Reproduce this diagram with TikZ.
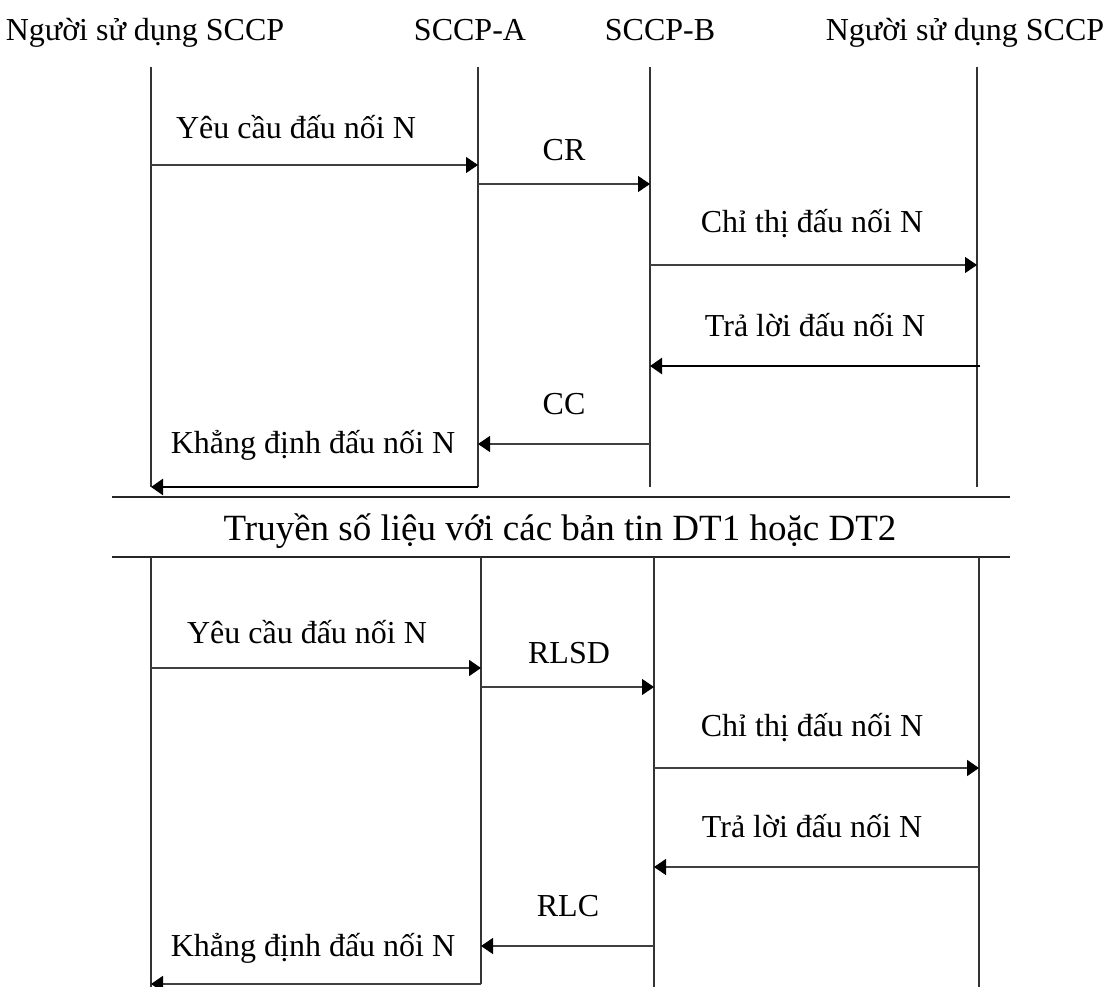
\documentclass[tikz,border=0pt]{standalone}
\usepackage{fontspec}
\setmainfont{Liberation Serif}
\usetikzlibrary{arrows.meta}
\begin{document}
\begin{tikzpicture}[x=1pt,y=-1pt,
  lifeline/.style={line width=2pt,draw=black!80},
  sepline/.style={line width=2pt,draw=black!85},
  tip/.style={-{Triangle[length=12pt,width=16pt,color=black]}},
  msg/.style={line width=1.1pt,draw=black!75,tip},
  msgb/.style={line width=2.4pt,draw=black,tip},
  lbl/.style={font=\fontsize{32}{36}\selectfont,anchor=base,inner sep=0pt},
  ttl/.style={font=\fontsize{37}{42}\selectfont,anchor=base,inner sep=0pt}]
\useasboundingbox (0,0) rectangle (1106,987);

% column headings
\node[lbl] (h1) at (145,41) {Người sử dụng SCCP};
\node[lbl] (h2) at (470,41) {SCCP-A};
\node[lbl] (h3) at (660,41) {SCCP-B};
\node[lbl] (h4) at (965,41) {Người sử dụng SCCP};

% upper phase: lifelines
\coordinate (uAt) at (151,67);  \coordinate (uAb) at (151,487);
\coordinate (uBt) at (478,67);  \coordinate (uBb) at (478,487);
\coordinate (uCt) at (650,67);  \coordinate (uCb) at (650,487);
\coordinate (uDt) at (977,67);  \coordinate (uDb) at (977,487);
\draw[lifeline] (uAt) -- (uAb);
\draw[lifeline] (uBt) -- (uBb);
\draw[lifeline] (uCt) -- (uCb);
\draw[lifeline] (uDt) -- (uDb);

% upper phase: connection set-up messages
\coordinate (u1s) at (151,165); \coordinate (u1e) at (478,165);
\coordinate (u2s) at (478,184); \coordinate (u2e) at (650,184);
\coordinate (u3s) at (650,265); \coordinate (u3e) at (977,265);
\coordinate (u4s) at (980,366); \coordinate (u4e) at (650,366);
\coordinate (u5s) at (650,444); \coordinate (u5e) at (478,444);
\coordinate (u6s) at (478,487); \coordinate (u6e) at (151,487);
\draw[msg] (u1s) -- (u1e);
\draw[msg] (u2s) -- (u2e);
\draw[msg] (u3s) -- (u3e);
\draw[msgb] (u4s) -- (u4e);
\draw[msg] (u5s) -- (u5e);
\draw[msgb] (u6s) -- (u6e);

\node[lbl] (ul1) at (296,139) {Yêu cầu đấu nối N};
\node[lbl] (ul2) at (564,161) {CR};
\node[lbl] (ul3) at (812,233) {Chỉ thị đấu nối N};
\node[lbl] (ul4) at (815,336) {Trả lời đấu nối N};
\node[lbl] (ul5) at (564,414) {CC};
\node[lbl] (ul6) at (313,453) {Khẳng định đấu nối N};

% data transfer band
\coordinate (s1l) at (112,497); \coordinate (s1r) at (1010,497);
\coordinate (s2l) at (112,557); \coordinate (s2r) at (1010,557);
\draw[sepline] (s1l) -- (s1r);
\draw[sepline] (s2l) -- (s2r);
\node[ttl] (band) at (560,540) {Truyền số liệu với các bản tin DT1 hoặc DT2};

% lower phase: lifelines
\coordinate (lAt) at (151,557); \coordinate (lAb) at (151,987);
\coordinate (lBt) at (481,557); \coordinate (lBb) at (481,984);
\coordinate (lCt) at (654,557); \coordinate (lCb) at (654,987);
\coordinate (lDt) at (979,557); \coordinate (lDb) at (979,987);
\draw[lifeline] (lAt) -- (lAb);
\draw[lifeline] (lBt) -- (lBb);
\draw[lifeline] (lCt) -- (lCb);
\draw[lifeline] (lDt) -- (lDb);

% lower phase: connection release messages
\coordinate (l1s) at (151,668); \coordinate (l1e) at (481,668);
\coordinate (l2s) at (481,687); \coordinate (l2e) at (654,687);
\coordinate (l3s) at (654,768); \coordinate (l3e) at (979,768);
\coordinate (l4s) at (979,867); \coordinate (l4e) at (654,867);
\coordinate (l5s) at (654,946); \coordinate (l5e) at (481,946);
\coordinate (l6s) at (481,984); \coordinate (l6e) at (151,984);
\draw[msg,line width=1.8pt] (l1s) -- (l1e);
\draw[msg] (l2s) -- (l2e);
\draw[msg,line width=1.8pt] (l3s) -- (l3e);
\draw[msg] (l4s) -- (l4e);
\draw[msg] (l5s) -- (l5e);
\draw[msg,line width=1.8pt] (l6s) -- (l6e);

\node[lbl] (ll1) at (307,643) {Yêu cầu đấu nối N};
\node[lbl] (ll2) at (569,663) {RLSD};
\node[lbl] (ll3) at (812,736) {Chỉ thị đấu nối N};
\node[lbl] (ll4) at (812,837) {Trả lời đấu nối N};
\node[lbl] (ll5) at (568,916) {RLC};
\node[lbl] (ll6) at (313,956) {Khẳng định đấu nối N};
\end{tikzpicture}
\end{document}
